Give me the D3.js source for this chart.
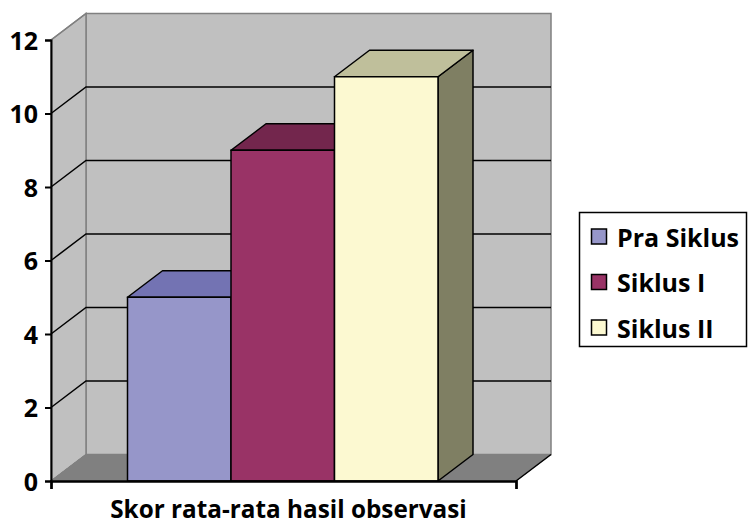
<!DOCTYPE html>
<html><head><meta charset="utf-8">
<script src="https://cdn.jsdelivr.net/npm/d3@7"></script>
<style>body{margin:0;background:#fff}svg{display:block}text{font-family:"Open Sans","Liberation Sans",sans-serif;font-weight:700;fill:#000}</style>
</head><body>
<script>
const seriesNames = ["Pra Siklus", "Siklus I", "Siklus II"];
const seriesValues = [5, 9, 11];
const categoryLabel = "Skor rata-rata hasil observasi";
const yTicks = [0, 2, 4, 6, 8, 10, 12];
const frontColors = ["#9696C9", "#993366", "#FCF9D1"];
const topColors = ["#7373B3", "#73264D", "#BFBF9B"];
const sideColors = ["#555588", "#5A1F3D", "#7F7F63"];

const W = 751, H = 527;
const svg = d3.select("body").append("svg").attr("width", W).attr("height", H);

const x0 = 51, x1 = 516;            // front floor edge
const dx = 35, dy = -26.5;          // depth offset
const y = d3.scaleLinear().domain([0, 12]).range([481, 40]);
const x = d3.scaleBand().domain(seriesNames).range([127.5, 438]).paddingInner(0).paddingOuter(0);

const line = d3.line();
const poly = pts => "M" + pts.map(p => p.join(",")).join("L") + "Z";

// back wall
svg.append("path").attr("d", poly([[x0+dx, y(12)+dy], [x1+dx, y(12)+dy], [x1+dx, y(0)+dy], [x0+dx, y(0)+dy]]))
  .attr("fill", "#C0C0C0").attr("stroke", "#808080").attr("stroke-width", 1.5);
// left wall
svg.append("path").attr("d", poly([[x0, y(0)], [x0, y(12)], [x0+dx, y(12)+dy], [x0+dx, y(0)+dy]]))
  .attr("fill", "#C0C0C0").attr("stroke", "#808080").attr("stroke-width", 1.5);
// floor
svg.append("path").attr("d", poly([[x0, y(0)], [x1, y(0)], [x1+dx, y(0)+dy], [x0+dx, y(0)+dy]]))
  .attr("fill", "#808080").attr("stroke", "#808080").attr("stroke-width", 1);

// gridlines
const grid = yTicks.filter(v => v > 0 && v < 12);
svg.append("g").selectAll("path").data(grid).join("path")
  .attr("d", v => line([[x0, y(v)], [x0+dx, y(v)+dy], [x1+dx, y(v)+dy]]))
  .attr("fill", "none").attr("stroke", "#000").attr("stroke-width", 1.5);
svg.append("path").attr("d", line([[x0, y(12)], [x0+dx, y(12)+dy]])).attr("stroke", "#808080").attr("stroke-width", 1.5);
// floor right edge
svg.append("path").attr("d", line([[x1, y(0)], [x1+dx, y(0)+dy]])).attr("stroke", "#000").attr("stroke-width", 1.5);
svg.append("path").attr("d", line([[x0, y(0)], [x0+dx, y(0)+dy]])).attr("stroke", "#808080").attr("stroke-width", 1);

// bars
const bars = svg.append("g").selectAll("g").data(seriesNames).join("g");
bars.each(function(name, i) {
  const g = d3.select(this);
  const l = x(name), r = x(name) + x.bandwidth();
  const t = y(seriesValues[i]), b = y(0);
  g.append("path").attr("d", poly([[r, t], [r+dx, t+dy], [r+dx, b+dy], [r, b]]))
    .attr("fill", sideColors[i]).attr("stroke", "#000").attr("stroke-width", 1.5).attr("stroke-linejoin", "round");
  g.append("path").attr("d", poly([[l, t], [l+dx, t+dy], [r+dx, t+dy], [r, t]]))
    .attr("fill", topColors[i]).attr("stroke", "#000").attr("stroke-width", 1.5).attr("stroke-linejoin", "round");
  g.append("path").attr("d", poly([[l, t], [r, t], [r, b], [l, b]]))
    .attr("fill", frontColors[i]).attr("stroke", "#000").attr("stroke-width", 1.5);
});

// y axis
const yAxis = svg.append("g").attr("transform", `translate(${x0},0)`)
  .call(d3.axisLeft(y).tickValues(yTicks).tickSize(6).tickPadding(7).tickFormat(d3.format("d")));
yAxis.select(".domain").attr("stroke", "#000").attr("stroke-width", 2);
yAxis.selectAll(".tick line").attr("stroke", "#000").attr("stroke-width", 2);
yAxis.selectAll(".tick text").attr("font-size", null).attr("font-family", null)
  .style("font-size", "25px").attr("dy", "0.36em");

// x axis line
const xAxis = svg.append("g").attr("transform", `translate(0,${y(0)})`)
  .call(d3.axisBottom(d3.scaleLinear().domain([0, 1]).range([x0, x1])).tickValues([0, 1]).tickSize(8).tickFormat(""));
xAxis.select(".domain").attr("stroke", "#000").attr("stroke-width", 2.5);
xAxis.selectAll(".tick line").attr("stroke", "#000").attr("stroke-width", 2);

svg.append("text").attr("x", 288.5).attr("y", 518).attr("text-anchor", "middle")
  .style("font-size", "24.3px").text(categoryLabel);

// legend
const lg = svg.append("g");
lg.append("rect").attr("x", 579.5).attr("y", 212.5).attr("width", 167).attr("height", 134)
  .attr("fill", "#fff").attr("stroke", "#000").attr("stroke-width", 1.5);
const items = lg.selectAll("g").data(seriesNames).join("g")
  .attr("transform", (d, i) => `translate(0,${237 + i * 45.5})`);
items.append("rect").attr("x", 591.5).attr("y", -8).attr("width", 15).attr("height", 15)
  .attr("fill", (d, i) => frontColors[i]).attr("stroke", "#000").attr("stroke-width", 1.5);
items.append("text").attr("x", 617).attr("y", 9.5).style("font-size", "25px").text(d => d);
</script>
</body></html>
